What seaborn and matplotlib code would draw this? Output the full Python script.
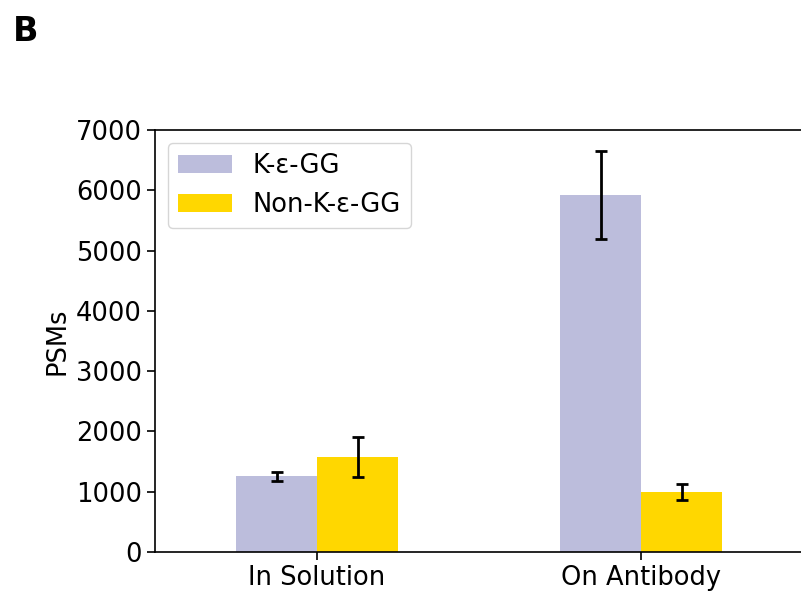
import matplotlib
matplotlib.use("Agg")
import matplotlib.pyplot as plt
import seaborn as sns
import pandas as pd
import numpy as np

categories = ["In Solution", "On Antibody"]
series = ["K-ε-GG", "Non-K-ε-GG"]
kgg_mean = [1260, 5920]
kgg_err = [75, 730]
nonk_mean = [1580, 995]
nonk_err = [330, 125]
colors = ["#BCBDDC", "#FFD700"]

sns.set_style("white")
plt.rcParams['font.family'] = ['DejaVu Sans']
plt.rcParams['text.color'] = 'black'
plt.rcParams['axes.labelcolor'] = 'black'
plt.rcParams['xtick.color'] = 'black'
plt.rcParams['ytick.color'] = 'black'

FS = 18.5

df = pd.DataFrame({
    "Condition": categories * 2,
    "Type": [series[0]] * 2 + [series[1]] * 2,
    "PSMs": kgg_mean + nonk_mean,
    "err": kgg_err + nonk_err,
})

fig = plt.figure(figsize=(8.01, 5.97), dpi=100)
ax = fig.add_axes([155 / 801, 45 / 597, 648 / 801, 422 / 597])

sns.barplot(data=df, x="Condition", y="PSMs", hue="Type", order=categories,
            hue_order=series, palette=colors, width=0.5, errorbar=None,
            saturation=1, linewidth=0, ax=ax)

errs = [kgg_err, nonk_err]
means = [kgg_mean, nonk_mean]
for cont, m, e in zip(ax.containers, means, errs):
    xs = [p.get_x() + p.get_width() / 2 for p in cont.patches]
    ax.errorbar(xs, m, yerr=e, fmt="none", ecolor="black", elinewidth=2,
                capsize=4, capthick=2)

ax.set_ylim(0, 7000)
ax.set_xlim(-0.5, 1.5)
ax.set_yticks(np.arange(0, 7001, 1000))
ax.set_xlabel("")
ax.set_ylabel("PSMs", fontsize=FS, color="black")
ax.tick_params(axis="both", labelsize=FS, length=6, width=1.2, left=True, bottom=True,
               colors="black", labelcolor="black")
for s in ax.spines.values():
    s.set_color("black")
    s.set_linewidth(1.2)

leg = ax.legend(loc="upper left", fontsize=FS, frameon=True, handlelength=2.1,
                borderaxespad=0.5)
leg.get_frame().set_edgecolor("#cccccc")
for t in leg.get_texts():
    t.set_color("black")

fig.text(13 / 801, 1 - 41 / 597, "B", fontsize=24, fontweight="bold", color="black")

fig.savefig("out.png", dpi=100)
